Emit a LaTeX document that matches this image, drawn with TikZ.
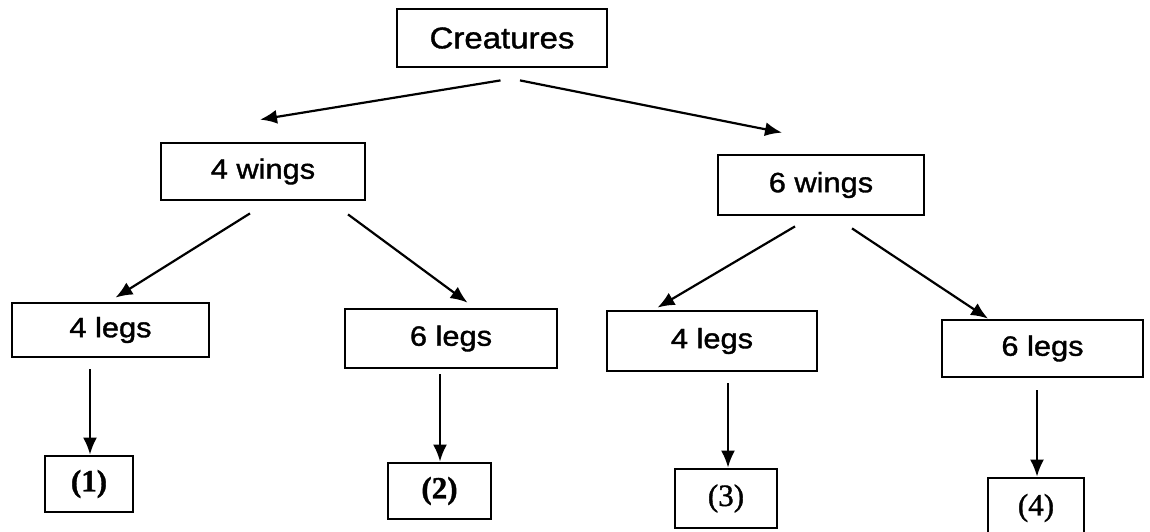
\documentclass[tikz,border=0pt]{standalone}
\usepackage{fontspec}
\setmainfont{Liberation Sans}[FakeStretch=1.1,FakeBold=1.2]
\newfontfamily\numfont{Liberation Serif}[FakeBold=1.2]
\usetikzlibrary{arrows.meta,calc}
\tikzset{
  box/.style={draw=black, line width=2.8pt, rectangle, inner sep=0pt, text=black,
              font=\fontsize{28}{30}\selectfont},
  numbox/.style={box, font=\numfont\fontsize{31}{33}\selectfont},
  conn/.style={line width=2.2pt, -{Latex[length=17pt,width=14pt]}}
}
\begin{document}
\begin{tikzpicture}[x=1pt,y=-1pt]
\useasboundingbox[fill=white] (0,0) rectangle (1150,531);
% nodes
\node[box, minimum width=210pt, minimum height=58pt, font=\fontsize{30}{32}\selectfont] (cre) at (502,38) {Creatures};
\node[box, minimum width=204pt, minimum height=57pt] (w4) at (263,171.5) {4 wings};
\node[box, minimum width=206pt, minimum height=60pt] (w6) at (821,185) {6 wings};
\node[box, minimum width=197pt, minimum height=54pt] (l1) at (110.5,330) {4 legs};
\node[box, minimum width=212pt, minimum height=59pt] (l2) at (451,338.5) {6 legs};
\node[box, minimum width=210pt, minimum height=60pt] (l3) at (712,341) {4 legs};
\node[box, minimum width=201pt, minimum height=57pt] (l4) at (1042.5,348.5) {6 legs};
\node[numbox, minimum width=88pt, minimum height=56pt] (n1) at (89,484) {\bfseries (1)};
\node[numbox, minimum width=103pt, minimum height=56pt] (n2) at (439.5,491) {\bfseries (2)};
\node[numbox, minimum width=102pt, minimum height=59pt] (n3) at (726,498.5) {(3)};
\node[numbox, minimum width=96pt, minimum height=60pt] (n4) at (1036,508) {(4)};
% connectors
\draw[conn] ($(cre.south)+(-1.5,12)$) -- ($(w4.north)+(-3,-22)$);
\draw[conn] ($(cre.south)+(18,12)$) -- ($(w6.north)+(-39,-21)$);
\draw[conn] ($(w4.south)+(-13,12)$) -- ($(l1.north)+(5,-4)$);
\draw[conn] ($(w4.south)+(85,13)$) -- ($(l2.north)+(16.5,-5)$);
\draw[conn] ($(w6.south)+(-26,10)$) -- ($(l3.north)+(-54.5,-2)$);
\draw[conn] ($(w6.south)+(31,12)$) -- ($(l4.north)+(-54.5,0)$);
\draw[conn] ($(l1.south)+(-20.5,11)$) -- ($(n1.north)+(1,0)$);
\draw[conn] ($(l2.south)+(-11,5)$) -- ($(n2.north)+(0.5,0)$);
\draw[conn] ($(l3.south)+(16,11)$) -- ($(n3.north)+(2,0)$);
\draw[conn] ($(l4.south)+(-5.5,12)$) -- ($(n4.north)+(1,0)$);
\end{tikzpicture}
\end{document}
